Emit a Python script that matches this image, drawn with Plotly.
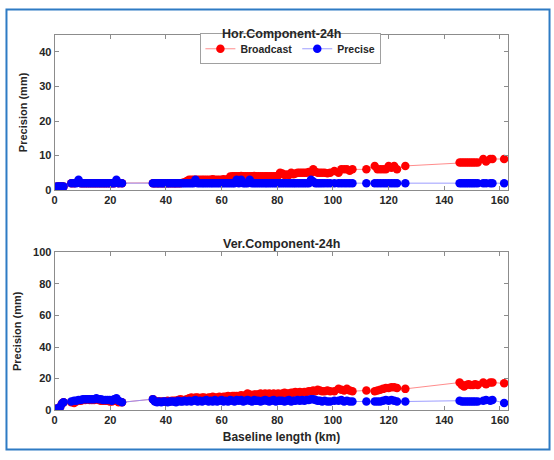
import plotly.graph_objects as go

# Baseline lengths (km), shared by every series
baseline_km = [
    0.8, 1.4, 2.0, 2.6, 3.2,
    6.0, 7.0, 7.8, 8.6, 9.4, 10.2, 11.0, 11.8, 12.6, 13.4, 14.2, 15.0, 15.8, 16.6, 17.4, 18.2, 19.0, 19.8, 20.6, 21.4, 22.2, 23.0, 24.2,
    35.3, 36.0, 36.8, 37.5, 38.3, 39.0, 39.8, 40.6, 41.3, 42.1,
    42.9, 43.6, 44.4, 45.2, 46.0, 46.7, 47.5, 48.3, 49.1, 49.9,
    50.6, 51.4, 52.2, 53.0, 53.7, 54.5, 55.3, 56.1, 56.8, 57.6,
    58.4, 59.2, 60.0, 60.7, 61.5, 62.3, 63.1, 63.9, 64.6, 65.4,
    66.2, 67.0, 67.8, 68.5, 69.3, 70.1, 70.9, 71.7, 72.4, 73.2,
    74.0, 74.8, 75.6, 76.3, 77.1, 77.9, 78.7, 79.5, 80.3, 81.0,
    81.8, 82.6, 83.4, 84.2, 85.0, 85.8, 86.5, 87.3, 88.1, 88.9,
    89.7, 90.5, 91.3, 92.1, 92.9, 93.7, 94.5, 95.3, 96.1, 97.0,
    98.0, 99.0,
    100.5, 102.0, 103.0, 104.0, 105.0, 106.0, 107.0, 112.0, 115.0, 116.0, 117.0, 118.0, 119.0, 120.0, 121.0, 122.0, 123.0, 126.0,
    145.5, 146.3, 147.1, 147.9, 148.7, 149.5, 150.3, 151.1, 152.0, 154.0, 155.0, 156.5, 157.3, 161.5,
]

# Horizontal component precision (mm)
hor_broadcast = [
    1.0, 1.0, 1.0, 1.0, 1.0,
    2.0, 2.0, 2.1, 2.2, 2.0, 2.0, 2.0, 2.0, 2.0, 2.0, 2.0, 2.0, 2.0, 2.0, 2.0, 2.0, 2.0, 2.0, 2.0, 2.0, 2.2, 2.0, 2.0,
    2.0, 2.0, 2.0, 2.0, 2.0, 2.0, 2.0, 2.0, 2.0, 2.0,
    2.0, 2.0, 2.0, 2.0, 2.1, 2.3, 2.6, 3.0, 3.0, 3.0,
    3.0, 3.0, 3.0, 3.0, 3.0, 3.0, 3.0, 3.0, 3.1, 3.0,
    3.0, 3.0, 3.0, 3.1, 3.0, 3.2, 3.9, 4.0, 4.0, 4.0,
    4.0, 4.1, 4.0, 4.0, 4.0, 4.0, 4.0, 4.1, 4.0, 4.0,
    4.0, 4.0, 4.0, 4.0, 4.0, 4.0, 4.0, 4.0, 4.2, 5.0,
    4.8, 4.4, 4.5, 4.4, 5.0, 4.6, 4.8, 5.0, 5.0, 5.0,
    5.0, 5.0, 5.2, 5.0, 6.0, 5.3, 5.0, 5.0, 5.0, 5.0,
    4.9, 5.0,
    5.5, 5.0, 6.0, 6.0, 6.0, 5.6, 6.0, 6.0, 7.0, 6.0, 6.0, 6.0, 6.0, 7.0, 6.5, 7.0, 6.0, 7.0,
    8.0, 8.0, 8.0, 8.0, 8.0, 8.0, 8.0, 8.0, 8.0, 9.0, 8.3, 9.0, 9.0, 9.0,
]
hor_precise = [
    1.0, 1.0, 1.0, 1.0, 1.0,
    2.0, 2.0, 2.0, 3.0, 2.0, 2.0, 2.0, 2.0, 2.0, 2.0, 2.0, 2.0, 2.0, 2.0, 2.0, 2.0, 2.0, 2.0, 2.0, 2.0, 3.0, 2.0, 2.0,
    2.0, 2.0, 2.0, 2.0, 2.0, 2.0, 2.0, 2.0, 2.0, 2.0,
    2.0, 2.0, 2.0, 2.0, 2.0, 2.0, 2.0, 2.0, 2.0, 2.0,
    3.0, 2.0, 2.0, 2.0, 2.0, 2.0, 2.0, 2.0, 2.0, 2.0,
    2.0, 2.0, 2.0, 2.0, 2.0, 2.0, 2.0, 2.0, 2.0, 3.0,
    2.0, 3.0, 2.0, 2.0, 2.0, 3.0, 2.0, 2.0, 2.0, 2.0,
    2.0, 2.0, 2.0, 2.0, 2.0, 2.0, 2.0, 2.0, 2.0, 2.0,
    2.0, 2.0, 2.0, 2.0, 2.0, 2.0, 2.0, 2.0, 2.0, 2.0,
    2.0, 2.0, 2.0, 3.0, 2.5, 2.0, 2.0, 2.0, 2.0, 2.0,
    2.0, 2.0,
    2.0, 2.0, 2.0, 2.0, 2.0, 2.0, 2.0, 2.0, 2.0, 2.0, 2.0, 2.0, 2.0, 2.0, 2.0, 2.0, 2.0, 2.0,
    2.0, 2.0, 2.0, 2.0, 2.0, 2.0, 2.0, 2.0, 2.0, 2.0, 2.0, 2.0, 2.0, 2.0,
]

# Vertical component precision (mm)
ver_broadcast = [
    1.0, 1.0, 2.0, 4.0, 5.0,
    5.0, 4.5, 5.5, 6.0, 6.0, 6.5, 6.5, 7.0, 6.5, 6.5, 6.5, 7.0, 6.5, 6.0, 6.0, 6.0, 6.0, 5.5, 5.5, 6.0, 6.0, 5.0, 5.0,
    7.0, 6.0, 5.5, 5.5, 5.5, 5.5, 5.5, 6.0, 5.5, 6.0,
    6.0, 6.0, 6.5, 7.0, 6.5, 6.5, 7.0, 7.5, 8.0, 7.5,
    8.0, 8.0, 7.5, 8.0, 8.0, 7.5, 8.0, 8.0, 8.5, 8.0,
    8.0, 8.5, 8.0, 8.5, 8.5, 9.0, 8.5, 9.0, 9.0, 9.0,
    9.0, 9.5, 9.0, 9.5, 10.5, 10.0, 9.5, 10.0, 10.0, 10.0,
    10.5, 10.0, 10.5, 10.0, 10.5, 10.0, 10.5, 10.0, 10.5, 10.0,
    10.5, 11.0, 10.5, 10.5, 11.0, 11.0, 11.5, 11.0, 11.5, 11.0,
    11.5, 11.5, 12.0, 12.0, 12.5, 12.0, 13.0, 12.5, 12.0, 12.0,
    12.5, 12.0,
    12.0, 13.5, 13.0, 12.5, 13.5, 12.5, 12.0, 12.5, 12.0, 12.5, 13.0, 13.5, 14.0, 14.0, 14.5, 14.5, 14.0, 13.5,
    17.5, 16.0, 15.0, 16.0, 16.5, 16.0, 16.0, 16.5, 16.0, 17.5, 16.5, 17.5, 17.5, 17.0,
]
ver_precise = [
    1.0, 1.0, 2.0, 4.0, 5.0,
    5.5, 6.0, 6.0, 6.5, 6.5, 7.0, 7.0, 7.0, 7.0, 7.0, 7.0, 7.5, 7.0, 7.0, 6.5, 6.5, 6.5, 6.5, 6.0, 7.0, 7.5, 6.0, 5.0,
    7.0, 5.5, 5.0, 5.5, 5.0, 5.5, 5.5, 5.0, 5.5, 5.5,
    5.5, 5.0, 6.0, 5.5, 5.5, 6.0, 5.5, 6.0, 5.5, 6.0,
    6.5, 5.5, 6.0, 5.5, 6.0, 6.5, 5.5, 6.0, 5.5, 6.5,
    5.5, 6.0, 6.5, 5.5, 6.0, 5.5, 6.5, 6.0, 5.5, 6.5,
    6.0, 6.5, 5.5, 6.0, 6.5, 6.0, 5.5, 6.5, 6.0, 6.0,
    5.5, 6.0, 6.5, 6.0, 5.5, 6.0, 6.5, 5.5, 6.0, 6.0,
    6.0, 5.5, 6.0, 6.5, 5.5, 6.0, 6.0, 6.5, 6.0, 6.5,
    6.0, 6.5, 6.5, 7.0, 7.0, 6.5, 6.0, 6.0, 5.5, 6.0,
    5.5, 5.5,
    6.0, 6.0, 6.5, 5.5, 6.0, 5.5, 5.5, 5.5, 5.5, 5.5, 5.5, 6.0, 6.5, 6.0, 6.5, 6.0, 5.5, 5.5,
    6.0, 5.5, 5.5, 5.5, 5.5, 5.5, 5.5, 5.5, 5.5, 6.0, 6.5, 6.0, 6.5, 4.5,
]

x_ticks = [0, 20, 40, 60, 80, 100, 120, 140, 160]
hor_ticks = [0, 10, 20, 30, 40]
ver_ticks = [0, 20, 40, 60, 80, 100]

FONT = "Liberation Sans, Arial, sans-serif"
TXT = "#262626"
AX = "#8c8c8c"

fig = go.Figure()

series = [
    ("Broadcast", "#ff0000", "rgba(255,120,120,0.85)"),
    ("Precise", "#0000ff", "rgba(140,140,255,0.85)"),
]

for (name, mcol, lcol), hy, vy in zip(series, [hor_broadcast, hor_precise], [ver_broadcast, ver_precise]):
    fig.add_trace(go.Scatter(
        x=baseline_km, y=hy, name=name, mode="lines+markers",
        line=dict(color=lcol, width=1), marker=dict(color=mcol, size=8.5, line=dict(width=0)),
        xaxis="x", yaxis="y", legendgroup=name, showlegend=True,
    ))
    fig.add_trace(go.Scatter(
        x=baseline_km, y=vy, name=name, mode="lines+markers",
        line=dict(color=lcol, width=1), marker=dict(color=mcol, size=8.5, line=dict(width=0)),
        xaxis="x2", yaxis="y2", legendgroup=name, showlegend=False,
    ))

W, H = 554, 460
xdom = [52 / W, 509 / W]
axis_common = dict(
    showline=True, linecolor=AX, linewidth=1, mirror="ticks",
    ticks="inside", ticklen=4, tickcolor=AX, showgrid=False, zeroline=False,
    tickfont=dict(family=FONT, size=11, color=TXT, weight="bold"),
)
ytitle_font = dict(family=FONT, size=11, color=TXT, weight="bold")

fig.update_layout(
    width=W, height=H,
    margin=dict(l=0, r=0, t=0, b=0),
    paper_bgcolor="white", plot_bgcolor="white",
    xaxis=dict(domain=xdom, range=[0, 163], tickvals=x_ticks, anchor="y", **axis_common),
    yaxis=dict(domain=[1 - 189 / H, 1 - 29.5 / H], range=[0, 45], tickvals=hor_ticks, anchor="x",
               title=dict(text="<b>Precision (mm)</b>", font=ytitle_font, standoff=9),
               **axis_common),
    xaxis2=dict(domain=xdom, range=[0, 163], tickvals=x_ticks, anchor="y2",
                title=dict(text="<b>Baseline length (km)</b>", font=dict(family=FONT, size=12, color=TXT, weight="bold"), standoff=7),
                **axis_common),
    yaxis2=dict(domain=[1 - 415 / H, 1 - 253 / H], range=[0, 100], tickvals=ver_ticks, anchor="x2",
                title=dict(text="<b>Precision (mm)</b>", font=ytitle_font, standoff=9),
                **axis_common),
    legend=dict(
        orientation="h", x=290 / W, xanchor="center", y=1 - 28 / H, yanchor="top",
        bordercolor="#a0a0a0", borderwidth=1, bgcolor="white",
        font=dict(family=FONT, size=10.5, color=TXT, weight="bold"),
        itemwidth=30, tracegroupgap=0,
    ),
    showlegend=True,
    annotations=[
        dict(text="<b>Hor.Component-24h</b>", x=281 / W, y=1 - 20 / H, xref="paper", yref="paper",
             showarrow=False, font=dict(family=FONT, size=12.5, color=TXT)),
        dict(text="<b>Ver.Component-24h</b>", x=281 / W, y=1 - 244 / H, xref="paper", yref="paper",
             showarrow=False, font=dict(family=FONT, size=12.5, color=TXT)),
    ],
    shapes=[
        dict(type="rect", xref="paper", yref="paper", x0=3.5 / W, x1=1 - 3.5 / W, y0=4.5 / H, y1=1 - 3.5 / H,
             line=dict(color="#2e7bc4", width=2), fillcolor="rgba(0,0,0,0)", layer="below"),
    ],
)

fig.write_html("out.html")
